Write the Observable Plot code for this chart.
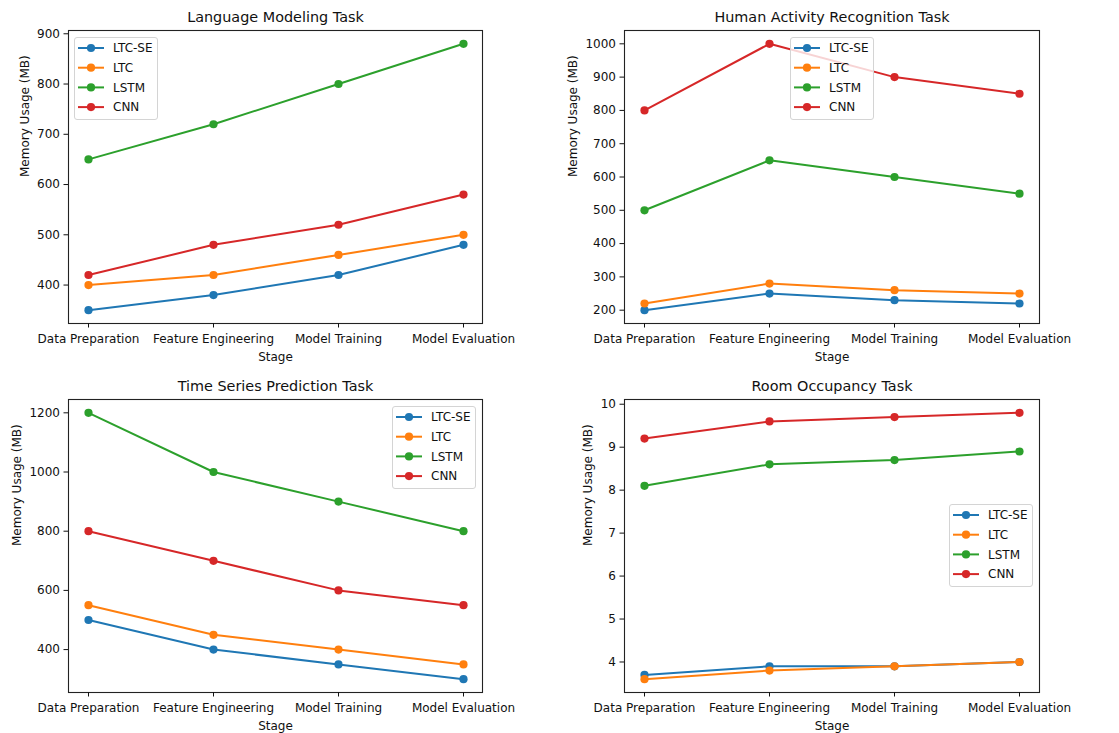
<!DOCTYPE html>
<html>
<head>
<meta charset="utf-8">
<script src="https://cdn.jsdelivr.net/npm/d3@7"></script>
<script src="https://cdn.jsdelivr.net/npm/@observablehq/plot@0.6"></script>
<style>
  html, body { margin: 0; padding: 0; background: #fff; }
  #root { position: relative; width: 1119px; height: 733px; background: #fff; font-family: "DejaVu Sans", sans-serif; overflow: hidden; }
  .panel { position: absolute; }
  .panel svg { overflow: visible; }
  .legend { position: absolute; background: rgba(255,255,255,0.8); border: 1px solid #d4d4d4; border-radius: 3px; box-sizing: border-box; }
</style>
</head>
<body>
<div id="root"></div>
<script>
// ---- data ----
const stages = ["Data Preparation", "Feature Engineering", "Model Training", "Model Evaluation"];
const seriesNames = ["LTC-SE", "LTC", "LSTM", "CNN"];
const seriesColors = ["#1f77b4", "#ff7f0e", "#2ca02c", "#d62728"];

// Language Modeling Task
const langLTCSE = [350, 380, 420, 480];
const langLTC   = [400, 420, 460, 500];
const langLSTM  = [650, 720, 800, 880];
const langCNN   = [420, 480, 520, 580];
const langTicks = [400, 500, 600, 700, 800, 900];

// Human Activity Recognition Task
const harLTCSE = [200, 250, 230, 220];
const harLTC   = [220, 280, 260, 250];
const harLSTM  = [500, 650, 600, 550];
const harCNN   = [800, 1000, 900, 850];
const harTicks = [200, 300, 400, 500, 600, 700, 800, 900, 1000];

// Time Series Prediction Task
const tsLTCSE = [500, 400, 350, 300];
const tsLTC   = [550, 450, 400, 350];
const tsLSTM  = [1200, 1000, 900, 800];
const tsCNN   = [800, 700, 600, 550];
const tsTicks = [400, 600, 800, 1000, 1200];

// Room Occupancy Task
const roomLTCSE = [3.7, 3.9, 3.9, 4.0];
const roomLTC   = [3.6, 3.8, 3.9, 4.0];
const roomLSTM  = [8.1, 8.6, 8.7, 8.9];
const roomCNN   = [9.2, 9.6, 9.7, 9.8];
const roomTicks = [4, 5, 6, 7, 8, 9, 10];

const yLabel = "Memory Usage (MB)";
const xLabel = "Stage";

// ---- layout ----
const panels = [
  { title: "Language Modeling Task", values: [langLTCSE, langLTC, langLSTM, langCNN], ticks: langTicks,
    left: 0, top: 0, width: 560, height: 366, m: [30, 78, 43, 68], yOff: 43, legend: [74, 37] },
  { title: "Human Activity Recognition Task", values: [harLTCSE, harLTC, harLSTM, harCNN], ticks: harTicks,
    left: 560, top: 0, width: 559, height: 366, m: [30, 80, 43, 64], yOff: 51, legend: [790, 37] },
  { title: "Time Series Prediction Task", values: [tsLTCSE, tsLTC, tsLSTM, tsCNN], ticks: tsTicks,
    left: 0, top: 370, width: 560, height: 363, m: [29, 78, 41, 68], yOff: 51, legend: [392, 406] },
  { title: "Room Occupancy Task", values: [roomLTCSE, roomLTC, roomLSTM, roomCNN], ticks: roomTicks,
    left: 560, top: 370, width: 559, height: 363, m: [29, 80, 41, 64], yOff: 36, legend: [949, 504] }
];

const root = document.getElementById("root");

for (const p of panels) {
  const all = p.values.flat();
  const lo = d3.min(all), hi = d3.max(all), pad = (hi - lo) * 0.05;
  const seriesMarks = [];
  p.values.forEach((vals, si) => {
    const rows = stages.map((s, i) => ({ stage: s, value: vals[i] }));
    seriesMarks.push(Plot.line(rows, { x: "stage", y: "value", stroke: seriesColors[si], strokeWidth: 2 }));
    seriesMarks.push(Plot.dot(rows, { x: "stage", y: "value", fill: seriesColors[si], r: 4.1 }));
  });
  const chart = Plot.plot({
    width: p.width,
    height: p.height,
    marginTop: p.m[0], marginRight: p.m[1], marginBottom: p.m[2], marginLeft: p.m[3],
    style: { fontFamily: "DejaVu Sans, sans-serif", fontSize: "12px", color: "#111", background: "transparent", overflow: "visible" },
    x: { type: "point", domain: stages, padding: 0.15 },
    y: { domain: [lo - pad, hi + pad] },
    marks: [
      ...seriesMarks,
      Plot.frame({ stroke: "#222", strokeWidth: 1.1 }),
      Plot.axisX({ tickSize: 4.5, tickPadding: 6.5, label: null, fontSize: 12 }),
      Plot.axisY({ ticks: p.ticks, tickSize: 4.5, tickPadding: 4, tickFormat: d => `${d}`, label: null, fontSize: 12 }),
      Plot.text([p.title], { frameAnchor: "top", dy: -13, lineAnchor: "middle", fontSize: 14.4, fill: "#111" }),
      Plot.text([xLabel], { frameAnchor: "bottom", dy: 34, lineAnchor: "middle", fontSize: 12, fill: "#111" }),
      Plot.text([yLabel], { frameAnchor: "left", dx: -p.yOff, rotate: -90, lineAnchor: "middle", fontSize: 12, fill: "#111" })
    ]
  });
  const holder = document.createElement("div");
  holder.className = "panel";
  holder.style.left = p.left + "px";
  holder.style.top = p.top + "px";
  holder.appendChild(chart);
  root.appendChild(holder);

  // legend (line + marker swatches)
  const lg = document.createElement("div");
  lg.className = "legend";
  lg.style.left = p.legend[0] + "px";
  lg.style.top = p.legend[1] + "px";
  lg.style.width = "84px";
  lg.style.height = "83px";
  const ns = "http://www.w3.org/2000/svg";
  const svg = document.createElementNS(ns, "svg");
  svg.setAttribute("width", 84);
  svg.setAttribute("height", 83);
  svg.style.position = "absolute";
  svg.style.left = "-1px";
  svg.style.top = "-1px";
  seriesNames.forEach((name, i) => {
    const cy = 11 + i * 19.7;
    const line = document.createElementNS(ns, "line");
    line.setAttribute("x1", 4); line.setAttribute("x2", 30);
    line.setAttribute("y1", cy); line.setAttribute("y2", cy);
    line.setAttribute("stroke", seriesColors[i]); line.setAttribute("stroke-width", 2);
    svg.appendChild(line);
    const c = document.createElementNS(ns, "circle");
    c.setAttribute("cx", 17); c.setAttribute("cy", cy); c.setAttribute("r", 4.1);
    c.setAttribute("fill", seriesColors[i]);
    svg.appendChild(c);
    const t = document.createElementNS(ns, "text");
    t.setAttribute("x", 39); t.setAttribute("y", cy);
    t.setAttribute("dy", "0.35em");
    t.setAttribute("font-size", 12);
    t.setAttribute("font-family", "DejaVu Sans, sans-serif");
    t.setAttribute("fill", "#111");
    t.textContent = name;
    svg.appendChild(t);
  });
  lg.appendChild(svg);
  root.appendChild(lg);
}
</script>
</body>
</html>
